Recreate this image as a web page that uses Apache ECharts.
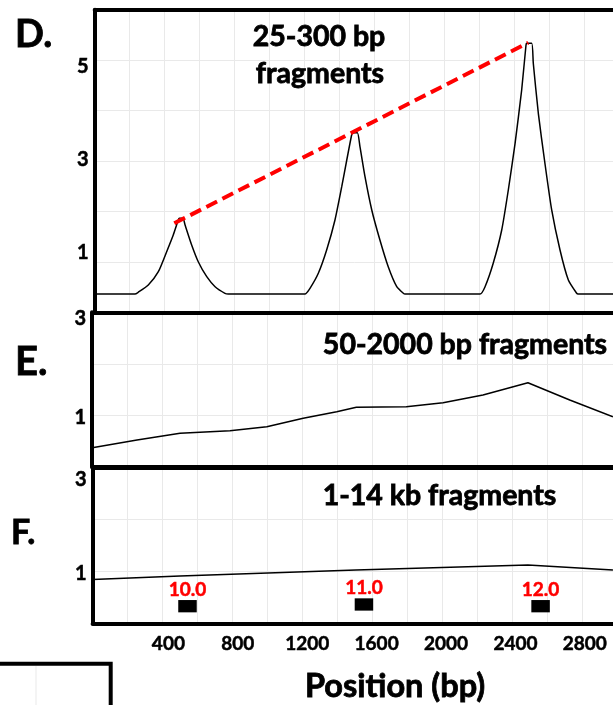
<!DOCTYPE html>
<html>
<head>
<meta charset="utf-8">
<title>Fragment coverage</title>
<script src="https://cdn.jsdelivr.net/npm/echarts@6/dist/echarts.min.js"></script>
<style>
  html, body { margin: 0; padding: 0; background: #fff; }
  #main { width: 613px; height: 705px; }
</style>
</head>
<body>
<div id="main"></div>
<script>
// tick labels
const xTicks = [400, 800, 1200, 1600, 2000, 2400, 2800]
const dTicks = [1, 3, 5]
const eTicks = [1, 3]
const fTicks = [1, 3]

// D. 25-300 bp fragments (position in bp, coverage)
const dPos = [-25, 207, 226, 284, 342, 390, 428, 457, 463, 484, 496, 534, 572, 621, 669, 726, 745,
  1187, 1216, 1264, 1312, 1360, 1399, 1428, 1456, 1462, 1489, 1504, 1533, 1572, 1619, 1667, 1716, 1754, 1764,
  2196, 2225, 2272, 2321, 2359, 2398, 2436, 2461, 2465, 2494, 2503, 2532, 2570, 2609, 2657, 2705, 2753, 2761, 2975]
const dVal = [0.363, 0.363, 0.397, 0.541, 0.805, 1.202, 1.533, 1.830, 1.864, 1.864, 1.731, 1.335, 1.003, 0.706, 0.508, 0.377, 0.363,
  0.363, 0.476, 0.773, 1.235, 1.830, 2.491, 3.020, 3.516, 3.561, 3.561, 3.284, 2.689, 2.029, 1.434, 0.904, 0.508, 0.377, 0.363,
  0.363, 0.508, 0.972, 1.632, 2.425, 3.351, 4.408, 5.300, 5.334, 5.334, 4.938, 3.946, 2.955, 2.029, 1.235, 0.640, 0.377, 0.363, 0.363]
// red dashed line over the peak tops
const trendPos = [434, 2474]
const trendVal = [1.765, 5.346]

// E. 50-2000 bp fragments
const ePos = [-39, 219, 467, 755, 967, 1177, 1370, 1483, 1771, 1983, 2213, 2472, 2713, 2962]
const eVal = [0.369, 0.519, 0.649, 0.699, 0.777, 0.940, 1.069, 1.154, 1.166, 1.243, 1.393, 1.632, 1.296, 0.971]

// F. 1-14 kb fragments
const fPos = [-37, 467, 1480, 2472, 2962]
const fVal = [0.842, 0.910, 1.025, 1.121, 1.025]

// black boxes with red labels
const markerPos = [510, 1527, 2545]
const markerVal = [0.329, 0.362, 0.329]
const markerLabels = ['10.0', '11.0', '12.0']

// layout
const FONT = 'Lato'
const X0 = 99          // pixel of 0 bp
const PXBP = 0.17351   // pixels per bp
const RIGHT = 640      // panels run past the right edge
const panels = [
  { left: 94.7, top: 9.7, height: 302.6, max: 6, labMin: -0.271, labMax: 6.215, ticks: dTicks },
  { left: 92.2, top: 312.3, height: 154.4, max: 3, labMin: 0.016, labMax: 3.135, ticks: eTicks },
  { left: 92.6, top: 467.3, height: 156, max: 3, labMin: -0.049, labMax: 3.27, ticks: fTicks }
]

function zip(xs, ys) {
  return xs.map(function (x, i) { return [x, ys[i]] })
}

const gridColor = '#e9e9e9'
const frame = { show: true, onZero: false, lineStyle: { color: '#000', width: 4 } }
const boldText = { color: '#000', fontFamily: FONT, fontWeight: 'bold', textBorderColor: '#000', textBorderWidth: 0.5 }
const grids = []
const xAxes = []
const yAxes = []
panels.forEach(function (p, g) {
  grids.push({
    left: p.left, top: p.top, width: RIGHT - p.left, height: p.height,
    containLabel: false, outerBoundsMode: 'none'
  })
  // bp axis (data), bottom edge of the frame
  xAxes.push({
    type: 'value', gridIndex: g, position: 'bottom',
    min: (p.left - X0) / PXBP, max: (RIGHT - X0) / PXBP,
    axisLine: frame, axisTick: { show: false }, splitLine: { show: false },
    axisLabel: Object.assign({
      show: g === 2,
      customValues: xTicks, margin: 11, fontSize: 19,
      formatter: function (v) { return String(v) }
    }, boldText)
  })
  // vertical grid lines, top edge of the frame
  xAxes.push({
    type: 'value', gridIndex: g, position: 'top',
    min: 0, max: RIGHT - p.left, interval: 35,
    axisLine: frame, axisTick: { show: false }, axisLabel: { show: false },
    splitLine: { show: true, lineStyle: { color: gridColor, width: 1 } }
  })
  // coverage axis (data + horizontal grid lines)
  yAxes.push({
    type: 'value', gridIndex: g, position: 'right',
    min: 0, max: p.max, interval: 1,
    axisLine: frame, axisTick: { show: false }, axisLabel: { show: false },
    splitLine: { show: true, lineStyle: { color: gridColor, width: 1 } }
  })
  // tick labels, left edge of the frame
  yAxes.push({
    type: 'value', gridIndex: g, position: 'left',
    min: p.labMin, max: p.labMax,
    axisLine: frame, axisTick: { show: false }, splitLine: { show: false },
    axisLabel: Object.assign({ customValues: p.ticks, margin: 6, fontSize: 20 }, boldText)
  })
})

function text(str, x, y, size, align) {
  return {
    type: 'text', x: x, y: y, z: 100,
    style: {
      text: str, fill: '#000', fontFamily: FONT, fontWeight: 'bold', fontSize: size,
      stroke: '#000', lineWidth: 0.8,
      align: align || 'center', verticalAlign: 'middle'
    }
  }
}

const option = {
  backgroundColor: '#fff',
  animation: false,
  grid: grids,
  xAxis: xAxes,
  yAxis: yAxes,
  series: [
    {
      name: '25-300 bp', type: 'line', xAxisIndex: 0, yAxisIndex: 0,
      data: zip(dPos, dVal), showSymbol: false, smooth: 0.2,
      lineStyle: { color: '#000', width: 1.5 }
    },
    {
      name: 'trend', type: 'line', xAxisIndex: 0, yAxisIndex: 0,
      data: zip(trendPos, trendVal), showSymbol: false, z: 5,
      lineStyle: { color: '#ff0000', width: 4, type: [12, 6] }
    },
    {
      name: '50-2000 bp', type: 'line', xAxisIndex: 2, yAxisIndex: 2,
      data: zip(ePos, eVal), showSymbol: false,
      lineStyle: { color: '#000', width: 1.5 }
    },
    {
      name: '1-14 kb', type: 'line', xAxisIndex: 4, yAxisIndex: 4,
      data: zip(fPos, fVal), showSymbol: false,
      lineStyle: { color: '#000', width: 1.5 }
    },
    {
      name: 'markers', type: 'scatter', xAxisIndex: 4, yAxisIndex: 4,
      data: zip(markerPos, markerVal),
      symbol: 'rect', symbolSize: [18.5, 12.3],
      itemStyle: { color: '#000', opacity: 1 },
      label: {
        show: true, position: 'top', distance: 1,
        formatter: function (p) { return markerLabels[p.dataIndex] },
        color: '#ff0000', fontFamily: FONT, fontWeight: 'bold', fontSize: 19,
        textBorderColor: '#ff0000', textBorderWidth: 0.5
      }
    }
  ],
  graphic: [
    text('D.', 15, 34.5, 38, 'left'),
    text('25-300 bp', 319, 36.7, 28.5),
    text('fragments', 320, 74, 28.5),
    text('E.', 15, 362, 40, 'left'),
    text('50-2000 bp fragments', 465, 345, 28.5),
    text('F.', 11, 533.5, 34, 'left'),
    text('1-14 kb fragments', 439.5, 495.5, 28.5),
    text('Position (bp)', 395, 686.7, 32.5),
    // corner of the next panel below
    {
      type: 'rect', z: 100,
      shape: { x: -10, y: 663.7, width: 120.7, height: 60 },
      style: { fill: 'none', stroke: '#000', lineWidth: 4 }
    },
    {
      type: 'line', z: 99,
      shape: { x1: 36, y1: 666, x2: 36, y2: 705 },
      style: { stroke: gridColor, lineWidth: 1 }
    }
  ]
}

const myChart = echarts.init(document.getElementById('main'))
myChart.setOption(option)
</script>
</body>
</html>
